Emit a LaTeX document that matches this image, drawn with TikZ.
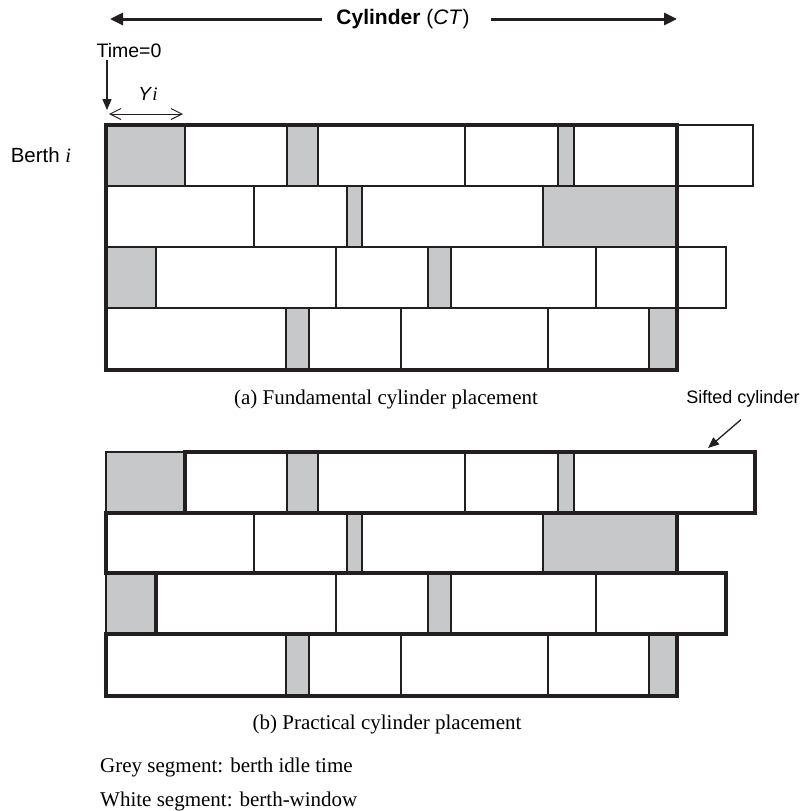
\documentclass[tikz,border=0pt]{standalone}
\usepackage{fontspec}
\setmainfont{Liberation Serif}
\setsansfont{Liberation Sans}
\usetikzlibrary{arrows.meta}
\definecolor{idleFill}{RGB}{199,200,202}
\definecolor{segLine}{RGB}{35,31,32}
\newcommand{\fsz}[1]{\fontsize{#1}{#1}\selectfont}

\begin{document}
\begin{tikzpicture}[x=1pt,y=-1pt,
  win/.style ={draw=segLine,fill=white,line width=1.2pt},
  idle/.style={draw=segLine,fill=idleFill,line width=1.2pt},
  cyl/.style ={draw=segLine,line width=3.4pt},
  lab/.style ={font=\sffamily\fsz{19.5},inner sep=2pt},
  capt/.style={font=\rmfamily\fsz{21},inner sep=2pt},
  fl/.style={-{Triangle[length=11pt,width=9pt]},line width=1.3pt,segLine},
  ctarr/.style={-{Triangle[length=13pt,width=12pt]},line width=3pt,segLine},
  dimarr/.style={{Straight Barb[length=11pt,width=11pt]}-{Straight Barb[length=11pt,width=11pt]},line width=1pt,segLine}]
\useasboundingbox (0,0) rectangle (803,811);
% top labels
\node[font=\sffamily\fsz{21},inner sep=3pt] (ct) at (403,19) {\textbf{Cylinder} (\textit{CT})};
\coordinate (ctL) at (110,19);
\coordinate (ctR) at (677,19);
\draw[ctarr,shorten <=11pt] (ct) -- (ctL);
\draw[ctarr,shorten <=18pt] (ct) -- (ctR);
\node[lab] (time) at (129,51) {Time=0};
\coordinate (t0) at (107,110);
\draw[fl] (time.south -| t0) -- (t0);
\node[lab,font=\sffamily\fsz{19}] (yi) at (148,94) {\textit{Y}{\rmfamily\itshape i}};
\coordinate (yiA) at (109,114);
\coordinate (yiB) at (183,114);
\draw[dimarr] (yiA) -- (yiB);
\node[lab,font=\sffamily\fsz{20.5}] (berth) at (41,155) {Berth {\rmfamily\itshape i}};
% (a) fundamental placement
\foreach \xa/\xb/\ya/\yb in {185/287/125/186, 318/465/125/186, 465/558/125/186, 574/677/125/186, 677/753/125/186,
    106/254/186/247, 254/347/186/247, 362/543/186/247,
    156/336/247/308, 336/428/247/308, 451/596/247/308, 596/677/247/308, 677/726/247/308,
    106/286/308/370, 309/401/308/370, 401/548/308/370, 548/649/308/370}
  \draw[win] (\xa,\ya) rectangle (\xb,\yb);
\foreach \xa/\xb/\ya/\yb in {106/185/125/186, 287/318/125/186, 558/574/125/186,
    347/362/186/247, 543/677/186/247,
    106/156/247/308, 428/451/247/308,
    286/309/308/370, 649/677/308/370}
  \draw[idle] (\xa,\ya) rectangle (\xb,\yb);
\draw[cyl] (106,125) rectangle (677,370);
\node[capt] (capA) at (386,399) {(a) Fundamental cylinder placement};
% (b) practical placement
\foreach \xa/\xb/\ya/\yb in {185/287/452/513, 318/465/452/513, 465/558/452/513, 574/755/452/513,
    106/254/513/573, 254/347/513/573, 362/543/513/573,
    156/336/573/634, 336/428/573/634, 451/596/573/634, 596/726/573/634,
    106/286/634/696, 309/401/634/696, 401/548/634/696, 548/649/634/696}
  \draw[win] (\xa,\ya) rectangle (\xb,\yb);
\foreach \xa/\xb/\ya/\yb in {106/185/452/513, 287/318/452/513, 558/574/452/513,
    347/362/513/573, 543/677/513/573,
    106/156/573/634, 428/451/573/634,
    286/309/634/696, 649/677/634/696}
  \draw[idle] (\xa,\ya) rectangle (\xb,\yb);
\foreach \xa/\xb/\ya/\yb in {185/755/452/513, 106/677/513/573, 156/726/573/634, 106/677/634/696}
  \draw[cyl] (\xa,\ya) rectangle (\xb,\yb);
\node[lab,font=\sffamily\fsz{18}] (sift) at (743,399) {Sifted cylinder};
\coordinate (siftTip) at (708,448);
\draw[fl] ([xshift=-2pt,yshift=-10pt]sift.south) -- (siftTip);
\node[capt] (capB) at (387,724) {(b) Practical cylinder placement};
\node[capt,anchor=west] (lgGrey) at (98,767) {Grey segment: berth idle time};
\node[capt,anchor=west] (lgWhite) at (98,801) {White segment: berth-window};
\end{tikzpicture}
\end{document}
